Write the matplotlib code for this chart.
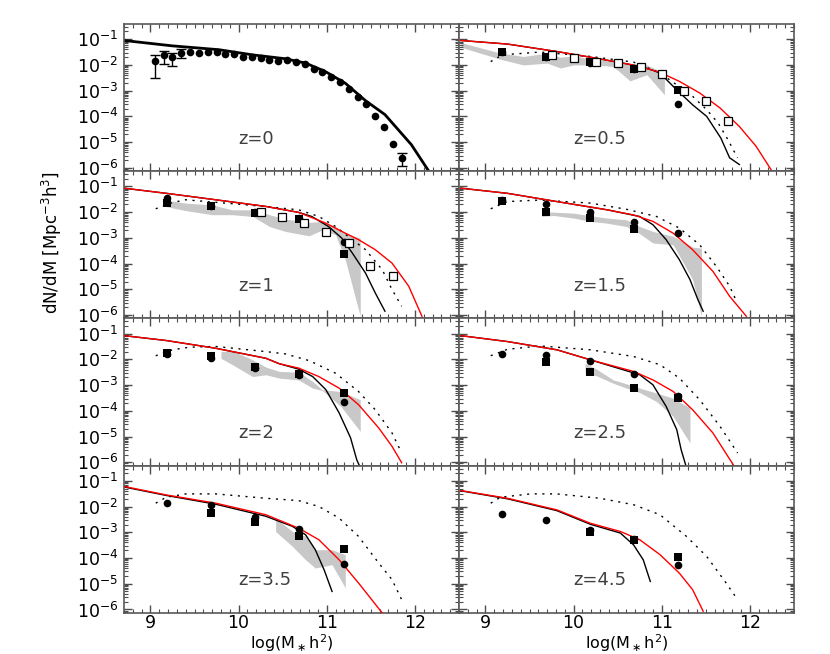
import numpy as np
import matplotlib
matplotlib.use('Agg')
import matplotlib.pyplot as plt
from matplotlib.ticker import MultipleLocator, LogLocator, LogFormatterMathtext, NullFormatter

# all y values are log10(dN/dM)

# z=0 : model line + observed points
z0_line_x = [8.70, 9.25, 9.78, 10.16, 10.53, 10.76, 10.98, 11.21, 11.44, 11.66, 11.96, 12.15]
z0_line_y = [-1.05, -1.26, -1.41, -1.61, -1.76, -1.93, -2.25, -2.71, -3.39, -3.93, -5.10, -6.09]
z0_pts_x = [9.05, 9.15, 9.25, 9.35, 9.45, 9.55, 9.65, 9.75, 9.85, 9.95, 10.05, 10.15, 10.25,
            10.35, 10.45, 10.55, 10.65, 10.75, 10.85, 10.95, 11.05, 11.15, 11.25, 11.35,
            11.45, 11.55, 11.65, 11.75, 11.85]
z0_pts_y = [-1.85, -1.63, -1.69, -1.53, -1.49, -1.53, -1.50, -1.49, -1.57, -1.59, -1.69, -1.71,
            -1.72, -1.80, -1.83, -1.80, -1.89, -1.97, -2.14, -2.27, -2.47, -2.68, -2.94, -3.25,
            -3.52, -4.00, -4.41, -5.06, -5.63]
z0_err_x = [9.05, 9.15, 9.25, 9.35, 11.85]
z0_err_lo = [-2.49, -1.97, -2.03, -1.74, -5.94]
z0_err_hi = [-1.61, -1.44, -1.52, -1.39, -5.43]

# common data bins for the higher-z panels
bins_x = [9.19, 9.69, 10.19, 10.69, 11.19]

# z=0.5
z05_red_x = [8.72, 9.25, 9.81, 10.19, 10.56, 10.75, 10.98, 11.20, 11.43, 11.66, 11.88, 12.07, 12.24]
z05_red_y = [-1.05, -1.19, -1.48, -1.70, -1.93, -2.06, -2.29, -2.64, -3.09, -3.67, -4.39, -5.16, -6.07]
z05_blk_x = [8.72, 9.25, 9.81, 10.19, 10.56, 10.75, 10.90, 10.98, 11.17, 11.35, 11.51, 11.67, 11.77, 11.88]
z05_blk_y = [-1.05, -1.19, -1.48, -1.70, -1.93, -2.06, -2.21, -2.32, -2.97, -3.55, -4.00, -4.84, -5.61, -5.87]
z05_dot_x = [9.06, 9.19, 9.62, 10.19, 10.68, 10.94, 11.09, 11.35, 11.51, 11.64, 11.75, 11.86]
z05_dot_y = [-1.87, -1.61, -1.50, -1.67, -1.89, -2.25, -2.58, -3.22, -3.74, -4.26, -4.90, -5.61]
z05_band_x = [8.72, 9.17, 9.43, 9.70, 9.85, 10.00, 10.26, 10.45, 10.64, 10.83, 11.03]
z05_band_hi = [-1.13, -1.54, -1.67, -1.54, -1.70, -1.65, -1.80, -1.83, -1.93, -2.00, -2.32]
z05_band_lo = [-1.31, -1.78, -2.00, -1.93, -2.12, -2.00, -2.00, -2.06, -2.62, -2.38, -3.16]
z05_circ = [-1.50, -1.70, -1.93, -2.16, -3.52]
z05_sq = [-1.48, -1.68, -1.88, -2.14, -2.96]
z05_open_x = [9.76, 10.00, 10.25, 10.50, 10.76, 11.00, 11.25, 11.50, 11.75]
z05_open_y = [-1.62, -1.75, -1.88, -1.92, -2.10, -2.34, -3.03, -3.42, -4.19]

# z=1
z1_red_x = [8.70, 9.18, 9.74, 10.31, 10.68, 10.99, 11.17, 11.36, 11.55, 11.74, 11.93, 12.08]
z1_red_y = [-1.07, -1.27, -1.52, -1.78, -2.01, -2.43, -2.75, -3.07, -3.46, -3.98, -4.88, -6.05]
z1_blk_x = [8.70, 9.18, 9.74, 10.31, 10.68, 10.83, 11.02, 11.17, 11.29, 11.44, 11.55, 11.66]
z1_blk_y = [-1.07, -1.27, -1.52, -1.78, -2.01, -2.17, -2.56, -3.01, -3.59, -4.37, -5.14, -5.85]
z1_dot_x = [9.06, 9.25, 9.40, 10.23, 10.68, 10.91, 11.10, 11.29, 11.44, 11.63, 11.74, 11.85]
z1_dot_y = [-1.87, -1.63, -1.52, -1.76, -1.91, -2.17, -2.56, -3.07, -3.46, -4.24, -5.01, -5.66]
z1_band_x = [9.14, 9.40, 9.70, 9.93, 10.16, 10.35, 10.53, 10.80, 10.95, 11.10, 11.21, 11.38]
z1_band_hi = [-1.52, -1.65, -1.72, -1.91, -1.91, -2.10, -2.27, -2.40, -2.36, -2.56, -2.82, -3.01]
z1_band_lo = [-1.76, -1.94, -2.10, -2.10, -2.17, -2.56, -2.75, -2.92, -2.69, -2.88, -3.85, -6.05]
z1_circ = [-1.46, -1.76, -1.98, -2.21, -3.16]
z1_sq = [-1.63, -1.78, -2.04, -2.26, -3.62]
z1_open_x = [10.25, 10.49, 10.74, 10.99, 11.25, 11.49, 11.75]
z1_open_y = [-2.00, -2.20, -2.42, -2.79, -3.20, -4.11, -4.49]

# z=1.5
z15_red_x = [8.72, 9.25, 9.81, 10.38, 10.68, 10.90, 11.13, 11.35, 11.58, 11.77, 11.96]
z15_red_y = [-1.07, -1.27, -1.59, -1.91, -2.11, -2.36, -2.82, -3.46, -4.30, -5.27, -6.05]
z15_blk_x = [8.72, 9.25, 9.81, 10.38, 10.75, 10.90, 11.05, 11.20, 11.32, 11.41, 11.47]
z15_blk_y = [-1.07, -1.27, -1.59, -1.91, -2.17, -2.49, -3.07, -3.85, -4.62, -5.40, -5.85]
z15_dot_x = [9.06, 9.25, 9.62, 10.19, 10.60, 10.94, 11.20, 11.43, 11.62, 11.77, 11.84]
z15_dot_y = [-1.87, -1.59, -1.53, -1.65, -1.89, -2.17, -2.62, -3.27, -4.11, -4.88, -5.40]
z15_band_x = [9.64, 9.77, 10.00, 10.19, 10.38, 10.60, 10.75, 10.90, 11.13, 11.35, 11.45]
z15_band_hi = [-1.98, -2.00, -2.04, -2.14, -2.23, -2.30, -2.56, -2.75, -2.94, -3.36, -3.40]
z15_band_lo = [-2.17, -2.13, -2.23, -2.36, -2.43, -2.56, -2.84, -3.20, -3.27, -4.62, -6.05]
z15_circ = [-1.52, -1.68, -2.01, -2.40, -2.82]
z15_sq_x = [9.19, 9.69, 10.19, 10.69]
z15_sq = [-1.56, -1.98, -2.23, -2.67]

# z=2
z2_red_x = [8.70, 9.18, 9.74, 10.31, 10.46, 10.68, 10.91, 11.14, 11.36, 11.59, 11.74, 11.85]
z2_red_y = [-1.08, -1.27, -1.57, -1.96, -2.17, -2.34, -2.67, -3.12, -3.76, -4.67, -5.38, -6.02]
z2_blk_x = [8.70, 9.18, 9.74, 10.31, 10.46, 10.68, 10.84, 10.99, 11.14, 11.27, 11.34, 11.37]
z2_blk_y = [-1.08, -1.27, -1.57, -1.96, -2.17, -2.38, -2.67, -3.18, -4.08, -5.05, -5.90, -6.13]
z2_dot_x = [9.06, 9.25, 9.44, 9.74, 10.31, 10.53, 10.80, 11.10, 11.36, 11.55, 11.74, 11.85]
z2_dot_y = [-1.86, -1.63, -1.53, -1.50, -1.70, -1.79, -2.05, -2.54, -3.25, -3.96, -4.86, -5.64]
z2_band_x = [9.80, 9.93, 10.16, 10.31, 10.46, 10.68, 10.84, 10.95, 11.16, 11.38]
z2_band_hi = [-1.70, -1.67, -2.02, -2.30, -2.47, -2.50, -2.86, -3.18, -3.25, -3.57]
z2_band_lo = [-1.96, -2.21, -2.67, -2.60, -2.73, -2.80, -3.12, -3.21, -3.83, -4.80]
z2_circ = [-1.80, -1.93, -2.32, -2.60, -3.67]
z2_sq = [-1.76, -1.86, -2.28, -2.56, -3.29]

# z=2.5
z25_red_x = [8.72, 9.25, 9.81, 10.19, 10.68, 10.90, 11.13, 11.35, 11.58, 11.81]
z25_red_y = [-1.08, -1.31, -1.63, -2.02, -2.47, -2.80, -3.25, -3.96, -4.86, -6.09]
z25_blk_x = [8.72, 9.25, 9.81, 10.19, 10.75, 10.90, 11.05, 11.17, 11.22, 11.27]
z25_blk_y = [-1.08, -1.31, -1.63, -2.02, -2.60, -2.99, -3.83, -4.73, -5.51, -6.09]
z25_dot_x = [9.06, 9.25, 9.62, 10.19, 10.68, 10.98, 11.20, 11.43, 11.66, 11.86]
z25_dot_y = [-1.86, -1.61, -1.48, -1.63, -1.89, -2.21, -2.73, -3.57, -4.60, -5.64]
z25_band_x = [10.13, 10.26, 10.45, 10.60, 10.75, 10.94, 11.13, 11.32]
z25_band_hi = [-2.15, -2.38, -2.80, -2.95, -3.12, -3.31, -3.51, -3.89]
z25_band_lo = [-2.54, -2.64, -2.93, -3.12, -3.29, -3.64, -4.22, -5.25]
z25_circ = [-1.78, -1.85, -2.07, -2.56, -3.44]
z25_sq_x = [9.69, 10.19, 10.69, 11.19]
z25_sq = [-2.09, -2.51, -3.11, -3.51]

# z=3.5
z35_red_x = [8.70, 9.18, 9.74, 10.31, 10.68, 10.91, 11.14, 11.36, 11.51, 11.63]
z35_red_y = [-1.22, -1.55, -1.87, -2.32, -2.84, -3.29, -4.07, -4.97, -5.62, -6.14]
z35_blk_x = [8.70, 9.18, 9.74, 10.31, 10.61, 10.76, 10.87, 10.97, 11.06]
z35_blk_y = [-1.24, -1.57, -1.91, -2.38, -2.77, -3.10, -3.68, -4.46, -5.30]
z35_dot_x = [9.06, 9.18, 9.40, 9.74, 10.31, 10.68, 10.91, 11.14, 11.36, 11.59, 11.74, 11.85]
z35_dot_y = [-1.87, -1.64, -1.51, -1.51, -1.68, -1.77, -2.00, -2.45, -3.16, -4.20, -4.84, -5.62]
z35_band_x = [10.42, 10.61, 10.76, 10.87, 11.06, 11.21]
z35_band_hi = [-2.45, -2.97, -3.16, -3.68, -3.68, -3.87]
z35_band_lo = [-2.97, -3.55, -4.07, -4.39, -4.26, -5.16]
z35_circ = [-1.87, -1.96, -2.39, -2.88, -4.22]
z35_sq_x = [9.69, 10.19, 10.69, 11.19]
z35_sq = [-2.26, -2.61, -3.14, -3.64]

# z=4.5
z45_red_x = [8.72, 9.25, 9.81, 10.19, 10.53, 10.75, 10.98, 11.20, 11.35, 11.47]
z45_red_y = [-1.38, -1.68, -2.13, -2.65, -2.97, -3.29, -3.87, -4.59, -5.23, -6.07]
z45_blk_x = [8.72, 9.25, 9.81, 10.19, 10.53, 10.68, 10.79, 10.87]
z45_blk_y = [-1.39, -1.70, -2.16, -2.69, -3.03, -3.49, -4.07, -4.91]
z45_dot_x = [9.06, 9.17, 9.51, 9.81, 10.30, 10.68, 10.98, 11.28, 11.51, 11.73, 11.86]
z45_dot_y = [-1.87, -1.64, -1.51, -1.51, -1.68, -1.93, -2.32, -3.16, -3.94, -4.97, -5.62]
z45_circ = [-2.30, -2.54, -2.90, -3.27, -4.26]
z45_sq_x = [10.19, 10.69, 11.19]
z45_sq = [-2.98, -3.29, -3.98]

z_labels = ['z=0', 'z=0.5', 'z=1', 'z=1.5', 'z=2', 'z=2.5', 'z=3.5', 'z=4.5']


def p(v):
    return 10.0**np.array(v)


fig, axes = plt.subplots(4, 2, figsize=(8.3, 6.54), dpi=100, sharex=True, sharey=True)
fig.subplots_adjust(left=0.1494, right=0.9566, top=0.9633, bottom=0.0630, wspace=0, hspace=0)

band_col = '#c8c8c8'
dot_ls = (0, (1.5, 4))

panels = [
    None,
    dict(red=(z05_red_x, z05_red_y), blk=(z05_blk_x, z05_blk_y), dot=(z05_dot_x, z05_dot_y),
         band=(z05_band_x, z05_band_lo, z05_band_hi), circ=(bins_x, z05_circ), sq=(bins_x, z05_sq),
         open=(z05_open_x, z05_open_y)),
    dict(red=(z1_red_x, z1_red_y), blk=(z1_blk_x, z1_blk_y), dot=(z1_dot_x, z1_dot_y),
         band=(z1_band_x, z1_band_lo, z1_band_hi), circ=(bins_x, z1_circ), sq=(bins_x, z1_sq),
         open=(z1_open_x, z1_open_y)),
    dict(red=(z15_red_x, z15_red_y), blk=(z15_blk_x, z15_blk_y), dot=(z15_dot_x, z15_dot_y),
         band=(z15_band_x, z15_band_lo, z15_band_hi), circ=(bins_x, z15_circ), sq=(z15_sq_x, z15_sq)),
    dict(red=(z2_red_x, z2_red_y), blk=(z2_blk_x, z2_blk_y), dot=(z2_dot_x, z2_dot_y),
         band=(z2_band_x, z2_band_lo, z2_band_hi), circ=(bins_x, z2_circ), sq=(bins_x, z2_sq)),
    dict(red=(z25_red_x, z25_red_y), blk=(z25_blk_x, z25_blk_y), dot=(z25_dot_x, z25_dot_y),
         band=(z25_band_x, z25_band_lo, z25_band_hi), circ=(bins_x, z25_circ), sq=(z25_sq_x, z25_sq)),
    dict(red=(z35_red_x, z35_red_y), blk=(z35_blk_x, z35_blk_y), dot=(z35_dot_x, z35_dot_y),
         band=(z35_band_x, z35_band_lo, z35_band_hi), circ=(bins_x, z35_circ), sq=(z35_sq_x, z35_sq)),
    dict(red=(z45_red_x, z45_red_y), blk=(z45_blk_x, z45_blk_y), dot=(z45_dot_x, z45_dot_y),
         circ=(bins_x, z45_circ), sq=(z45_sq_x, z45_sq)),
]

for i, ax in enumerate(axes.flat):
    ax.set_yscale('log')
    ax.set_xlim(8.7, 12.5)
    ax.set_ylim(10**-6.13, 10**-0.41)

    if i == 0:
        ax.plot(z0_line_x, p(z0_line_y), color='k', lw=2)
        ax.plot(z0_pts_x, p(z0_pts_y), 'o', color='k', ms=5.5, mew=0)
        yc = np.array([p(z0_pts_y[z0_pts_x.index(x)]) for x in z0_err_x])
        ax.errorbar(z0_err_x, yc, yerr=[yc - p(z0_err_lo), p(z0_err_hi) - yc],
                    fmt='none', ecolor='k', elinewidth=1, capsize=3.5, capthick=1)
    else:
        d = panels[i]
        if 'band' in d:
            bx, blo, bhi = d['band']
            ax.fill_between(bx, p(blo), p(bhi), color=band_col, lw=0, zorder=1)
        ax.plot(d['dot'][0], p(d['dot'][1]), color='k', lw=1, ls=dot_ls, zorder=2)
        ax.plot(d['blk'][0], p(d['blk'][1]), color='k', lw=1, zorder=2)
        ax.plot(d['red'][0], p(d['red'][1]), color='red', lw=1, zorder=3)
        ax.plot(d['circ'][0], p(d['circ'][1]), 'o', color='k', ms=5.5, mew=0, zorder=4)
        ax.plot(d['sq'][0], p(d['sq'][1]), 's', color='k', ms=5.5, mew=0, zorder=4)
        if 'open' in d:
            ax.plot(d['open'][0], p(d['open'][1]), 's', mfc='white', mec='k', ms=6, mew=0.9, zorder=5)

    ax.text(10.0, 10**-4.86, z_labels[i], fontsize=13, ha='left', va='center', color='0.25')

    ax.xaxis.set_major_locator(MultipleLocator(1))
    ax.xaxis.set_minor_locator(MultipleLocator(0.1))
    ax.yaxis.set_major_locator(LogLocator(base=10, numticks=12))
    ax.yaxis.set_minor_locator(LogLocator(base=10, subs=np.arange(2, 10), numticks=12))
    ax.yaxis.set_major_formatter(LogFormatterMathtext())
    ax.yaxis.set_minor_formatter(NullFormatter())
    ax.tick_params(which='both', direction='in', top=True, right=True, color='0.3')
    ax.tick_params(axis='x', labelsize=12.5, pad=1)
    ax.tick_params(axis='y', labelsize=12.5, pad=4)
    ax.tick_params(which='major', length=6, width=1)
    ax.tick_params(which='minor', length=3, width=0.8)
    for s in ax.spines.values():
        s.set_color('0.35')
        s.set_linewidth(1.2)

for ax in axes[:, 1]:
    ax.tick_params(labelleft=False)
for ax in axes[3, :]:
    ax.set_xlabel(r'log(M$_\ast$h$^2$)', fontsize=11.5, labelpad=0)

fig.text(52 / 830.0, 1 - 243 / 654.0, r'dN/dM [Mpc$^{-3}$h$^3$]', rotation=90,
         ha='center', va='center', fontsize=12)

fig.savefig('out.png', dpi=100)
